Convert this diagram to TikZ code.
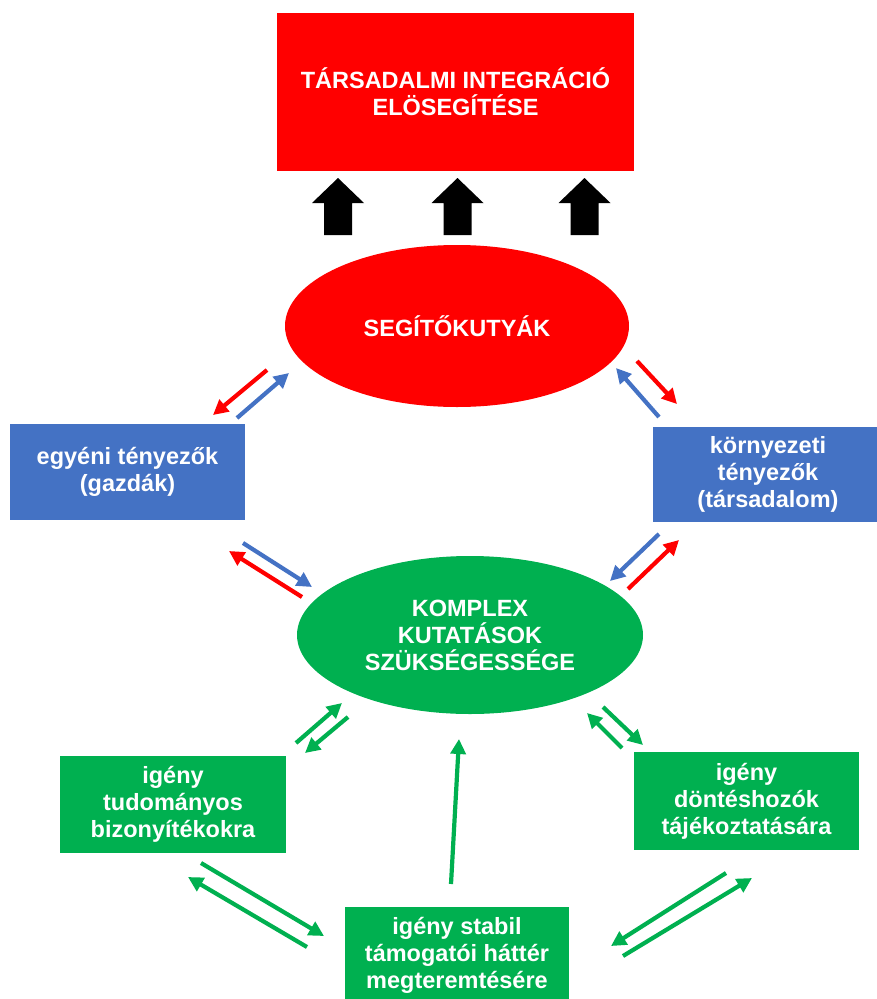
\documentclass[tikz,border=0pt]{standalone}
\usepackage{fontspec}
\setmainfont{Liberation Sans}
\usetikzlibrary{arrows.meta,shapes.geometric}
\definecolor{ppred}{HTML}{FF0000}
\definecolor{ppblue}{HTML}{4472C4}
\definecolor{ppgreen}{HTML}{00B050}
\tikzset{>={Triangle[length=15pt,width=15pt]}}
\tikzset{
  label_txt/.style={text=white, align=center, inner sep=0pt,
    font=\fontsize{23.5}{27}\selectfont\bfseries},
  redbox/.style={label_txt, rectangle, fill=ppred},
  redoval/.style={label_txt, ellipse, fill=ppred},
  bluebox/.style={label_txt, rectangle, fill=ppblue},
  greenbox/.style={label_txt, rectangle, fill=ppgreen},
  greenoval/.style={label_txt, ellipse, fill=ppgreen},
  link/.style={->, line width=4.2pt}
}

\begin{document}
\begin{tikzpicture}[x=1pt, y=-1pt]

  \useasboundingbox (0,0) rectangle (877,999);

  \node[redbox, minimum width=357, minimum height=158] (goal) at (455.5,92) {TÁRSADALMI INTEGRÁCIÓ\\ELÖSEGÍTÉSE};
  \node[redoval, minimum width=344, minimum height=162] (dogs) at (457,326) {SEGÍTŐKUTYÁK};
  \node[bluebox, minimum width=235, minimum height=96] (owners) at (127.5,472) {egyéni tényezők\\(gazdák)};
  \node[bluebox, minimum width=230, minimum height=95] (society) at (768,474.5) {környezeti\\tényezők\\(társadalom)};
  \node[greenoval, minimum width=346, minimum height=158] (research) at (470,635) {KOMPLEX\\KUTATÁSOK\\SZÜKSÉGESSÉGE};
  \node[greenbox, minimum width=226, minimum height=97] (evidence) at (173,804.5) {igény\\tudományos\\bizonyítékokra};
  \node[greenbox, minimum width=225, minimum height=98] (decision) at (746.5,801) {igény\\döntéshozók\\tájékoztatására};
  \node[greenbox, minimum width=224, minimum height=97] (support) at (457,955.5) {igény stabil\\támogatói háttér\\megteremtésére};

  % block arrows under the goal
  \foreach \x in {338,457.5,584.5}
    \fill[black] (\x-26,203) -- (\x,178) -- (\x+26,203) -- (\x+14,203) -- (\x+14,235) -- (\x-14,235) -- (\x-14,203) -- cycle;

  % end points of the double arrows
  \node[coordinate] (dogs_ow_a) at (267,370) {};
  \node[coordinate] (dogs_ow_b) at (213,415) {};
  \node[coordinate] (ow_dogs_a) at (237,418) {};
  \node[coordinate] (ow_dogs_b) at (289,373) {};
  \node[coordinate] (ow_res_a) at (243,543) {};
  \node[coordinate] (ow_res_b) at (312,587) {};
  \node[coordinate] (res_ow_a) at (302,597) {};
  \node[coordinate] (res_ow_b) at (229,551) {};
  \node[coordinate] (so_dogs_a) at (659,417) {};
  \node[coordinate] (so_dogs_b) at (616,368) {};
  \node[coordinate] (dogs_so_a) at (637,361) {};
  \node[coordinate] (dogs_so_b) at (677,404) {};
  \node[coordinate] (so_res_a) at (659,534) {};
  \node[coordinate] (so_res_b) at (610,581) {};
  \node[coordinate] (res_so_a) at (628,589) {};
  \node[coordinate] (res_so_b) at (679,540) {};

  \node[coordinate] (ev_res_a) at (296,743) {};
  \node[coordinate] (ev_res_b) at (342,703) {};
  \node[coordinate] (res_ev_a) at (348,717) {};
  \node[coordinate] (res_ev_b) at (305,753) {};
  \node[coordinate] (ev_sup_a) at (201,863) {};
  \node[coordinate] (ev_sup_b) at (324,936) {};
  \node[coordinate] (sup_ev_a) at (307,947) {};
  \node[coordinate] (sup_ev_b) at (188,877) {};
  \node[coordinate] (sup_res_a) at (451,884) {};
  \node[coordinate] (sup_res_b) at (459,739) {};
  \node[coordinate] (de_res_a) at (622,748) {};
  \node[coordinate] (de_res_b) at (587,713) {};
  \node[coordinate] (res_de_a) at (603,707) {};
  \node[coordinate] (res_de_b) at (643,745) {};
  \node[coordinate] (de_sup_a) at (726,873) {};
  \node[coordinate] (de_sup_b) at (611,946) {};
  \node[coordinate] (sup_de_a) at (623,956) {};
  \node[coordinate] (sup_de_b) at (752,878) {};

  \draw[link, ppred] (dogs_ow_a) -- (dogs_ow_b);
  \draw[link, ppblue] (ow_dogs_a) -- (ow_dogs_b);
  \draw[link, ppblue] (ow_res_a) -- (ow_res_b);
  \draw[link, ppred] (res_ow_a) -- (res_ow_b);
  \draw[link, ppblue] (so_dogs_a) -- (so_dogs_b);
  \draw[link, ppred] (dogs_so_a) -- (dogs_so_b);
  \draw[link, ppblue] (so_res_a) -- (so_res_b);
  \draw[link, ppred] (res_so_a) -- (res_so_b);

  \draw[link, ppgreen] (ev_res_a) -- (ev_res_b);
  \draw[link, ppgreen] (res_ev_a) -- (res_ev_b);
  \draw[link, ppgreen] (ev_sup_a) -- (ev_sup_b);
  \draw[link, ppgreen] (sup_ev_a) -- (sup_ev_b);
  \draw[link, ppgreen] (sup_res_a) -- (sup_res_b);
  \draw[link, ppgreen] (de_res_a) -- (de_res_b);
  \draw[link, ppgreen] (res_de_a) -- (res_de_b);
  \draw[link, ppgreen] (de_sup_a) -- (de_sup_b);
  \draw[link, ppgreen] (sup_de_a) -- (sup_de_b);

\end{tikzpicture}
\end{document}
